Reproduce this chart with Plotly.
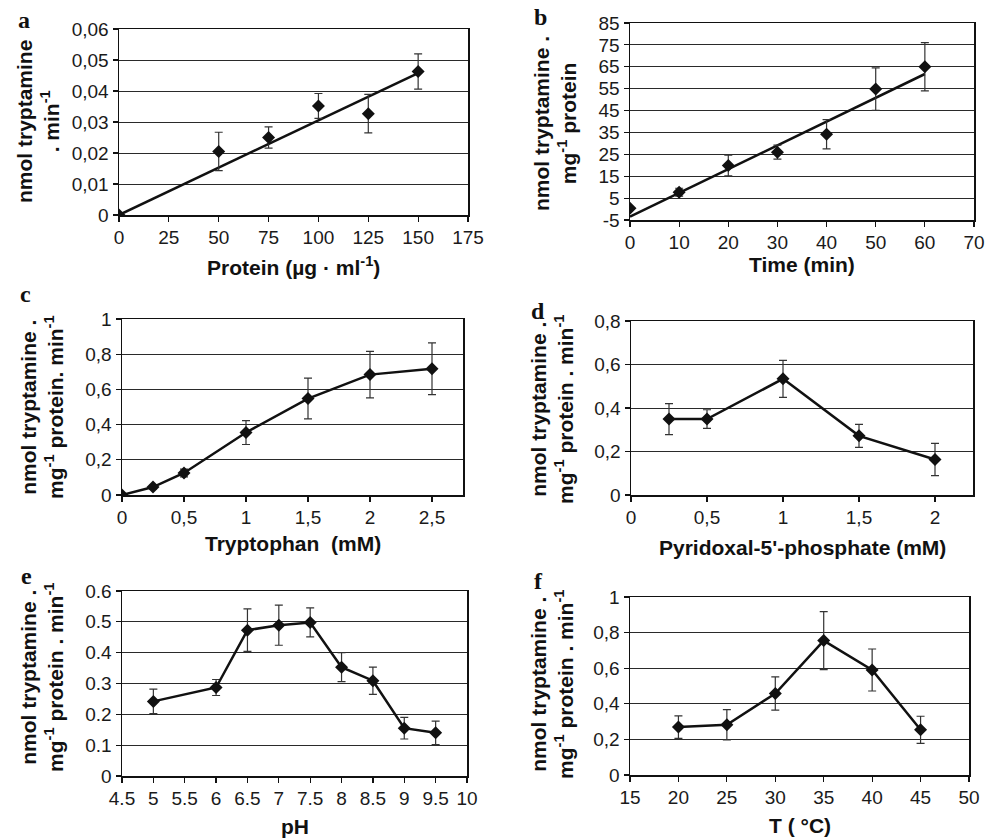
import plotly.graph_objects as go

# ---------------- data ----------------
a_x = [0, 50, 75, 100, 125, 150]
a_y = [0, 0.0205, 0.025, 0.0352, 0.0327, 0.0463]
a_err = [0, 0.0062, 0.0034, 0.004, 0.0062, 0.0057]
a_trend_x = [0, 150]
a_trend_y = [0, 0.0458]

b_x = [0, 10, 20, 30, 40, 50, 60]
b_y = [0.4, 7.7, 19.9, 26.0, 34.2, 54.8, 65.0]
b_err = [0, 1.8, 4.7, 3.2, 6.7, 9.7, 11.0]
b_trend_x = [0, 60]
b_trend_y = [-3.5, 61.7]

c_x = [0, 0.25, 0.5, 1, 1.5, 2, 2.5]
c_y = [0, 0.045, 0.125, 0.355, 0.548, 0.684, 0.717]
c_err = [0, 0.01, 0.022, 0.068, 0.116, 0.132, 0.147]

d_x = [0.25, 0.5, 1, 1.5, 2]
d_y = [0.349, 0.349, 0.534, 0.272, 0.163]
d_err = [0.071, 0.043, 0.085, 0.053, 0.074]

e_x = [5, 6, 6.5, 7, 7.5, 8, 8.5, 9, 9.5]
e_y = [0.242, 0.287, 0.473, 0.489, 0.498, 0.353, 0.309, 0.155, 0.140]
e_err = [0.04, 0.026, 0.069, 0.065, 0.047, 0.047, 0.044, 0.035, 0.038]

f_x = [20, 25, 30, 35, 40, 45]
f_y = [0.269, 0.282, 0.458, 0.755, 0.590, 0.254]
f_err = [0.063, 0.085, 0.093, 0.163, 0.118, 0.076]

# tick values / labels
a_xticks = [0, 25, 50, 75, 100, 125, 150, 175]
a_xlabels = ["0", "25", "50", "75", "100", "125", "150", "175"]
a_yticks = [0, 0.01, 0.02, 0.03, 0.04, 0.05, 0.06]
a_ylabels = ["0", "0,01", "0,02", "0,03", "0,04", "0,05", "0,06"]

b_xticks = [0, 10, 20, 30, 40, 50, 60, 70]
b_xlabels = ["0", "10", "20", "30", "40", "50", "60", "70"]
b_yticks = [-5, 5, 15, 25, 35, 45, 55, 65, 75, 85]
b_ylabels = ["-5", "5", "15", "25", "35", "45", "55", "65", "75", "85"]

c_xticks = [0, 0.5, 1, 1.5, 2, 2.5]
c_xlabels = ["0", "0,5", "1", "1,5", "2", "2,5"]
c_yticks = [0, 0.2, 0.4, 0.6, 0.8, 1]
c_ylabels = ["0", "0,2", "0,4", "0,6", "0,8", "1"]

d_xticks = [0, 0.5, 1, 1.5, 2]
d_xlabels = ["0", "0,5", "1", "1,5", "2"]
d_yticks = [0, 0.2, 0.4, 0.6, 0.8]
d_ylabels = ["0", "0,2", "0,4", "0,6", "0,8"]

e_xticks = [4.5, 5, 5.5, 6, 6.5, 7, 7.5, 8, 8.5, 9, 9.5, 10]
e_xlabels = ["4.5", "5", "5.5", "6", "6.5", "7", "7.5", "8", "8.5", "9", "9.5", "10"]
e_yticks = [0, 0.1, 0.2, 0.3, 0.4, 0.5, 0.6]
e_ylabels = ["0", "0.1", "0.2", "0.3", "0.4", "0.5", "0.6"]

f_xticks = [15, 20, 25, 30, 35, 40, 45, 50]
f_xlabels = ["15", "20", "25", "30", "35", "40", "45", "50"]
f_yticks = [0, 0.2, 0.4, 0.6, 0.8, 1]
f_ylabels = ["0", "0,2", "0,4", "0,6", "0,8", "1"]

W, H = 998, 839

# panel plot areas in pixels: (left, right, top, bottom)
panels = [
    dict(name="a", box=(119, 468, 29, 215), xr=[0, 175], yr=[0, 0.06],
         xt=(a_xticks, a_xlabels), yt=(a_yticks, a_ylabels),
         x=a_x, y=a_y, err=a_err, mode="markers", trend=(a_trend_x, a_trend_y),
         xtitle="Protein (µg · ml<sup>-1</sup>)", xty=266,
         ytitle="nmol tryptamine<br>. min<sup>-1</sup>", ytx=38, yty=122,
         letter=(24, 20)),
    dict(name="b", box=(630, 974, 23, 220), xr=[0, 70], yr=[-5, 85],
         xt=(b_xticks, b_xlabels), yt=(b_yticks, b_ylabels),
         x=b_x, y=b_y, err=b_err, mode="markers", trend=(b_trend_x, b_trend_y),
         xtitle="Time (min)", xty=264,
         ytitle="nmol tryptamine .<br>mg<sup>-1</sup> protein", ytx=555, yty=124,
         letter=(540, 17)),
    dict(name="c", box=(122, 463, 319, 495), xr=[0, 2.75], yr=[0, 1],
         xt=(c_xticks, c_xlabels), yt=(c_yticks, c_ylabels),
         x=c_x, y=c_y, err=c_err, mode="lines+markers", trend=None,
         xtitle="Tryptophan  (mM)", xty=543,
         ytitle="nmol tryptamine .<br>mg<sup>-1</sup> protein. min<sup>-1</sup>", ytx=42, yty=407,
         letter=(25, 294)),
    dict(name="d", box=(631, 973, 321, 495), xr=[0, 2.25], yr=[0, 0.8],
         xt=(d_xticks, d_xlabels), yt=(d_yticks, d_ylabels),
         x=d_x, y=d_y, err=d_err, mode="lines+markers", trend=None,
         xtitle="Pyridoxal-5'-phosphate (mM)", xty=547,
         ytitle="nmol tryptamine .<br>mg<sup>-1</sup> protein . min<sup>-1</sup>", ytx=552, yty=410,
         letter=(538, 311)),
    dict(name="e", box=(122, 467, 591, 776), xr=[4.5, 10], yr=[0, 0.6],
         xt=(e_xticks, e_xlabels), yt=(e_yticks, e_ylabels),
         x=e_x, y=e_y, err=e_err, mode="lines+markers", trend=None,
         xtitle="pH", xty=826,
         ytitle="nmol tryptamine .<br>mg<sup>-1</sup> protein . min<sup>-1</sup>", ytx=42, yty=678,
         letter=(26, 576)),
    dict(name="f", box=(630, 969, 597, 775), xr=[15, 50], yr=[0, 1],
         xt=(f_xticks, f_xlabels), yt=(f_yticks, f_ylabels),
         x=f_x, y=f_y, err=f_err, mode="lines+markers", trend=None,
         xtitle="T ( °C)", xty=825,
         ytitle="nmol tryptamine .<br>mg<sup>-1</sup> protein . min<sup>-1</sup>", ytx=552, yty=685,
         letter=(538, 581)),
]

TICK_FONT = dict(family="Liberation Sans, Arial, sans-serif", size=19, color="#1a1a1a")
TITLE_FONT = dict(family="Liberation Sans, Arial, sans-serif", size=21, color="#111111", weight="bold")
LETTER_FONT = dict(family="Liberation Serif, Times New Roman, serif", size=24, color="#111111", weight="bold")

fig = go.Figure()
layout = dict(width=W, height=H,
              margin=dict(l=0, r=0, t=0, b=0, pad=0, autoexpand=False),
              paper_bgcolor="white", plot_bgcolor="white", showlegend=False)
annotations = []

for i, p in enumerate(panels):
    n = "" if i == 0 else str(i + 1)
    xa, ya = "x" + n, "y" + n
    l, r, t, b = p["box"]
    layout["xaxis" + n] = dict(
        domain=[l / W, r / W], anchor=ya, range=p["xr"], automargin=False,
        tickvals=p["xt"][0], ticktext=p["xt"][1], tickfont=TICK_FONT,
        showgrid=False, zeroline=False, showline=True, linecolor="#111111", linewidth=1.5,
        mirror=True, ticks="outside", ticklen=5, tickwidth=1.2, tickcolor="#111111",
        fixedrange=True)
    layout["yaxis" + n] = dict(
        domain=[1 - b / H, 1 - t / H], anchor=xa, range=p["yr"], automargin=False,
        tickvals=p["yt"][0], ticktext=p["yt"][1], tickfont=TICK_FONT,
        showgrid=True, gridcolor="#2a2a2a", gridwidth=1, zeroline=False,
        showline=True, linecolor="#111111", linewidth=1.5, mirror=True,
        ticks="outside", ticklen=5, tickwidth=1.2, tickcolor="#111111", fixedrange=True)

    if p["trend"] is not None:
        fig.add_trace(go.Scatter(x=p["trend"][0], y=p["trend"][1], mode="lines",
                                 line=dict(color="#111111", width=2.5),
                                 xaxis=xa, yaxis=ya, hoverinfo="skip"))
    fig.add_trace(go.Scatter(
        x=p["x"], y=p["y"], mode=p["mode"],
        line=dict(color="#111111", width=2.5),
        marker=dict(symbol="diamond", size=10, color="#111111"),
        error_y=dict(type="data", array=p["err"], visible=True, color="#333333",
                     thickness=1.2, width=4),
        xaxis=xa, yaxis=ya))

    annotations.append(dict(text=p["xtitle"], x=(l + r) / 2 / W, y=1 - p["xty"] / H,
                            xref="paper", yref="paper", xanchor="center", yanchor="middle",
                            showarrow=False, font=TITLE_FONT))
    annotations.append(dict(text=p["ytitle"], x=p["ytx"] / W, y=1 - p["yty"] / H,
                            xref="paper", yref="paper", xanchor="center", yanchor="middle",
                            textangle=-90, showarrow=False, font=TITLE_FONT))
    annotations.append(dict(text=p["name"], x=p["letter"][0] / W, y=1 - p["letter"][1] / H,
                            xref="paper", yref="paper", xanchor="center", yanchor="middle",
                            showarrow=False, font=LETTER_FONT))

layout["annotations"] = annotations
fig.update_layout(**layout)
fig.write_html("out.html", config={"displayModeBar": False, "staticPlot": True},
               post_script="document.body.style.margin='0';document.body.style.overflow='hidden';")
